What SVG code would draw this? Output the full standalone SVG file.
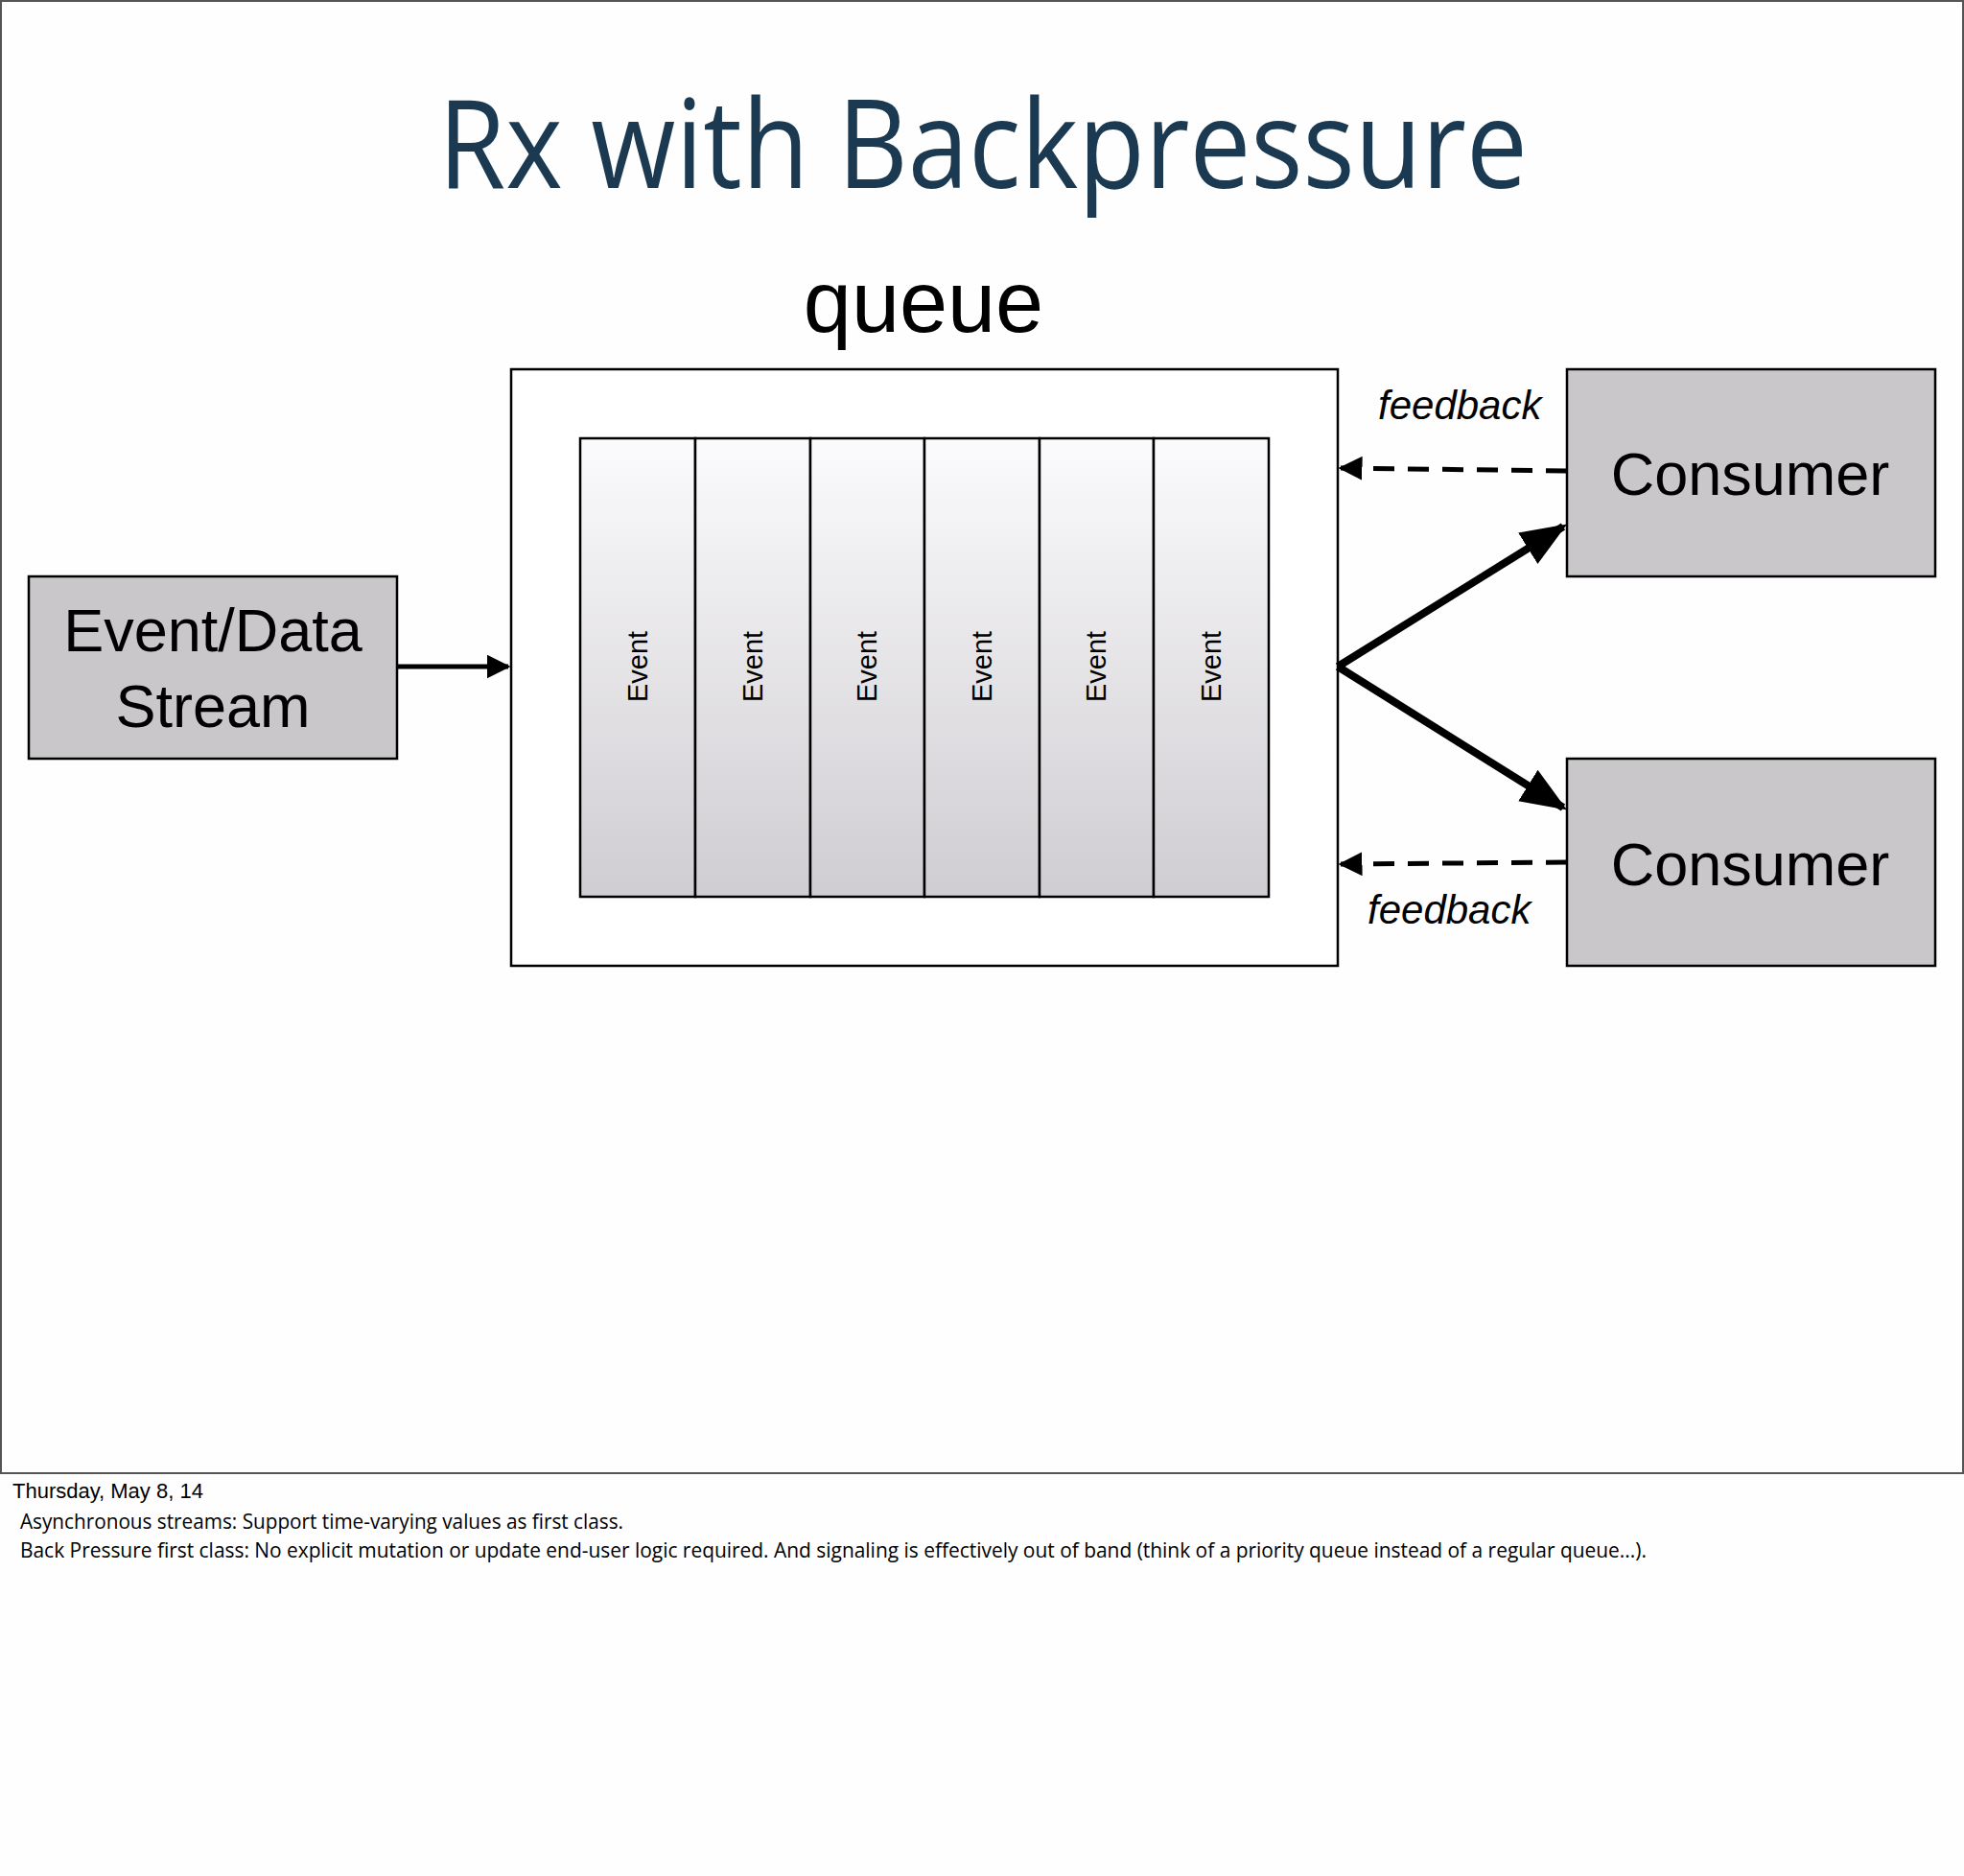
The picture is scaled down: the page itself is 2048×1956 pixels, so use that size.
<svg xmlns="http://www.w3.org/2000/svg" width="2048" height="1956" viewBox="0 0 2048 1956">
<style>
.b{stroke:#000;stroke-width:2.5}
.g{fill:#c9c7c9}
.t{font-family:"Liberation Sans",Arial,sans-serif;fill:#000}
.ev{font-family:"Liberation Sans",Arial,sans-serif;font-size:29px;text-anchor:middle}
.fn{font-family:"Open Sans","Noto Sans",sans-serif;font-size:21px}
</style>
<defs>
<linearGradient id="eg" x1="0" y1="0" x2="0" y2="1"><stop offset="0" stop-color="#fbfafc"/><stop offset="1" stop-color="#cfcdd1"/></linearGradient>
<marker id="ah" viewBox="0 0 10 10" refX="9" refY="5" markerWidth="5" markerHeight="5" orient="auto" markerUnits="strokeWidth"><path d="M0,0L10,5L0,10z" fill="#000"/></marker>
<marker id="ah2" viewBox="0 0 10 10" refX="9" refY="5" markerWidth="6" markerHeight="6" orient="auto" markerUnits="strokeWidth"><path d="M0,1L10,5L0,9z" fill="#000"/></marker>
</defs>
<rect x="0" y="0" width="2048" height="1956" fill="#fefefe"/>
<rect x="1" y="1" width="2046" height="1535" fill="none" stroke="#555" stroke-width="2"/>
<text x="1025" y="196" font-family="'Source Sans Pro','Open Sans',sans-serif" font-size="128" fill="#1b3a52" text-anchor="middle" textLength="1136" lengthAdjust="spacingAndGlyphs">Rx with Backpressure</text>
<text x="963" y="346" class="t" font-size="90" text-anchor="middle">queue</text>
<g id="queue">
<rect x="533" y="385" width="862" height="622" fill="#fff" class="b"/>
<g class="b" fill="url(#eg)">
<rect x="605" y="457" width="120" height="478"/><rect x="725" y="457" width="120" height="478"/><rect x="845" y="457" width="119" height="478"/><rect x="964" y="457" width="120" height="478"/><rect x="1084" y="457" width="119" height="478"/><rect x="1203" y="457" width="120" height="478"/>
</g>
<text class="ev" transform="translate(675,695) rotate(-90)">Event</text>
<text class="ev" transform="translate(795,695) rotate(-90)">Event</text>
<text class="ev" transform="translate(914,695) rotate(-90)">Event</text>
<text class="ev" transform="translate(1034,695) rotate(-90)">Event</text>
<text class="ev" transform="translate(1153,695) rotate(-90)">Event</text>
<text class="ev" transform="translate(1273,695) rotate(-90)">Event</text>
</g>
<g id="source">
<rect x="30" y="601" width="384" height="190" class="b g"/>
<text x="222" y="679" class="t" font-size="63" text-anchor="middle">Event/Data</text>
<text x="222" y="758" class="t" font-size="63" text-anchor="middle">Stream</text>
</g>
<g id="consumer1">
<rect x="1634" y="385" width="384" height="216" class="b g"/>
<text x="1825" y="516" class="t" font-size="63" text-anchor="middle">Consumer</text>
</g>
<g id="consumer2">
<rect x="1634" y="791" width="384" height="216" class="b g"/>
<text x="1825" y="923" class="t" font-size="63" text-anchor="middle">Consumer</text>
</g>
<g id="connectors" fill="none" stroke="#000">
<line x1="414" y1="695" x2="530" y2="695" stroke-width="5" marker-end="url(#ah)"/>
<line x1="1395" y1="695" x2="1630" y2="549" stroke-width="8" marker-end="url(#ah2)"/>
<line x1="1395" y1="695" x2="1630" y2="842" stroke-width="8" marker-end="url(#ah2)"/>
<line x1="1634" y1="491" x2="1398" y2="488" stroke-width="5" stroke-dasharray="22,14" marker-end="url(#ah)"/>
<line x1="1634" y1="899" x2="1398" y2="901" stroke-width="5" stroke-dasharray="22,14" marker-end="url(#ah)"/>
</g>
<text x="1437" y="437" class="t" font-size="42" font-style="italic">feedback</text>
<text x="1426" y="963" class="t" font-size="42" font-style="italic">feedback</text>
<text x="13" y="1562" class="t" font-size="22">Thursday, May 8, 14</text>
<text x="21" y="1594" class="fn" textLength="629" lengthAdjust="spacingAndGlyphs">Asynchronous streams: Support time-varying values as first class.</text>
<text x="21" y="1624" class="fn" textLength="1696" lengthAdjust="spacingAndGlyphs">Back Pressure first class: No explicit mutation or update end-user logic required. And signaling is effectively out of band (think of a priority queue instead of a regular queue...).</text>
</svg>
